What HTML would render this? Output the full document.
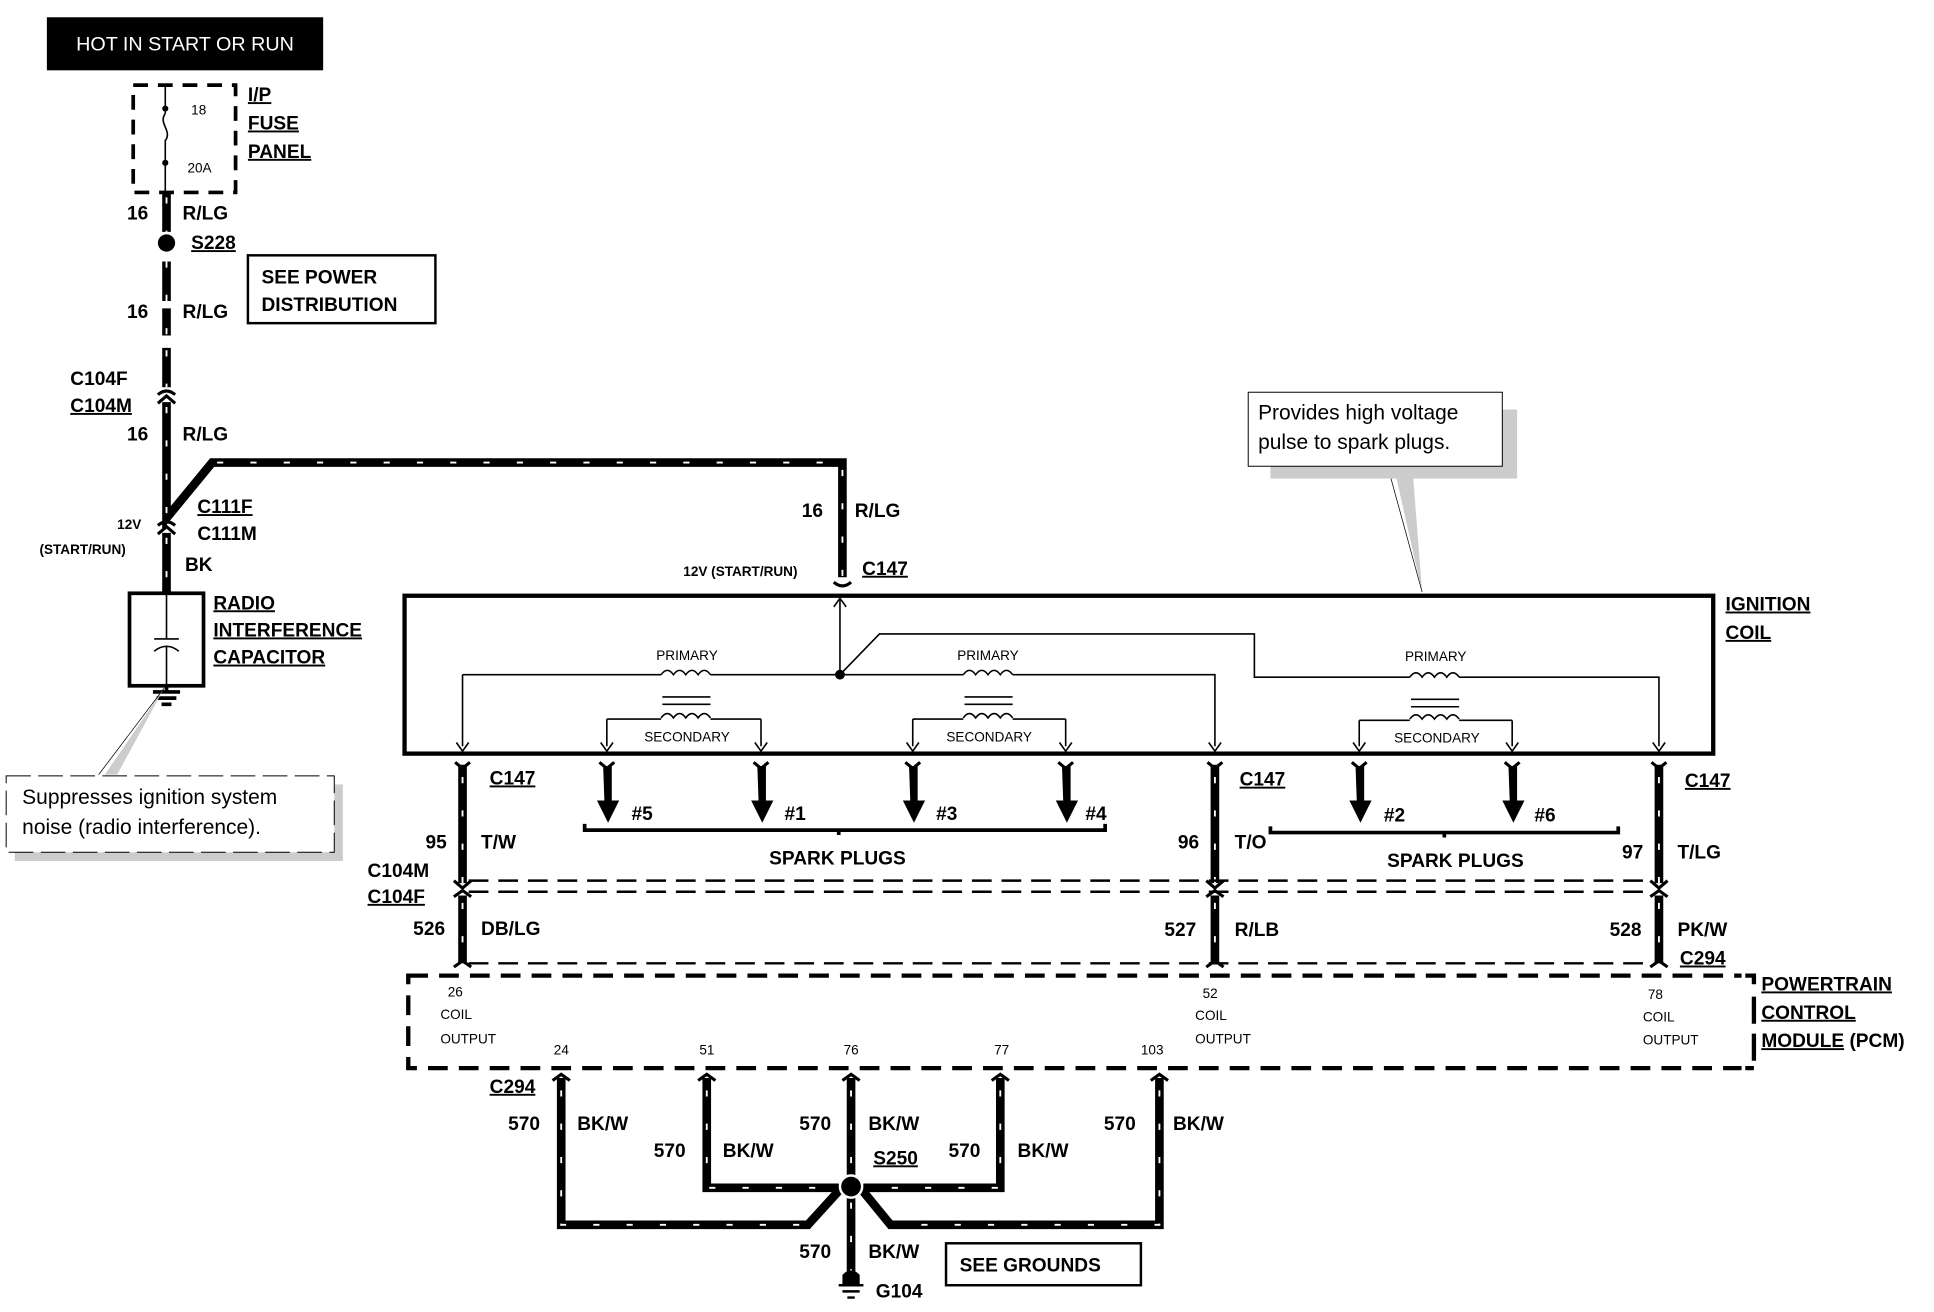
<!DOCTYPE html>
<html><head><meta charset="utf-8"><style>
html,body{margin:0;padding:0;background:#fff}
svg{display:block}
text{font-family:"Liberation Sans",Arial,sans-serif;fill:#000}
.b{font-weight:bold;font-size:15.5px}
.u{text-decoration:underline}
.s{font-size:11px}
.sb{font-size:11px;font-weight:bold}
.w{fill:none;stroke:#000;stroke-width:7}
.ws{fill:none;stroke:#fff;stroke-width:1.5;stroke-dasharray:5 22}
.t{fill:none;stroke:#000;stroke-width:1.3}
</style></head><body>
<svg width="1934" height="1312" viewBox="0 0 1568 1063.7" preserveAspectRatio="none" xmlns="http://www.w3.org/2000/svg">
<rect width="1568" height="1064" fill="#fff"/>
<rect x="38" y="14" width="224" height="43" fill="#000"/>
<text x="150" y="41" text-anchor="middle" style="fill:#fff;font-size:16px">HOT IN START OR RUN</text>
<rect x="108" y="69" width="83" height="87" fill="none" stroke="#000" stroke-width="3" stroke-dasharray="12 8"/>
<path class="t" d="M134 69 V92 M134 92 C128 100,140 106,134 114 V134 V156"/>
<circle cx="134" cy="88" r="2.5"/><circle cx="134" cy="132" r="2.5"/>
<text x="155" y="93" class="s">18</text><text x="152" y="140" class="s">20A</text>
<text x="201" y="82" class="b u">I/P</text><text x="201" y="105" class="b u">FUSE</text><text x="201" y="128" class="b u">PANEL</text>
<path class="w" d="M135 156 V188 M135 212 V244 M135 250 V272 M135 282 V314 M135 326 V420 L172 375 H683 V468 M135 432 V482"/>
<path class="ws" d="M135 160 V188 M135 212 V272 M135 284 V314 M135 330 V420 M176 375 H683 V468 M135 436 V480"/>
<circle cx="135" cy="197" r="7"/>
<path d="M128 320 q7 -6 14 0 M128 327 l7 -6 7 6 M128 426 q7 -6 14 0 M128 433 l7 -6 7 6 M676 472 q7 6 14 0" fill="none" stroke="#000" stroke-width="2.5"/>
<text x="103" y="178" class="b">16</text><text x="148" y="178" class="b">R/LG</text>
<text x="155" y="202" class="b u">S228</text>
<rect x="201" y="207" width="152" height="55" fill="none" stroke="#000" stroke-width="2"/>
<text x="212" y="230" class="b">SEE POWER</text><text x="212" y="252" class="b">DISTRIBUTION</text>
<text x="103" y="258" class="b">16</text><text x="148" y="258" class="b">R/LG</text>
<text x="57" y="312" class="b">C104F</text><text x="57" y="334" class="b u">C104M</text>
<text x="103" y="357" class="b">16</text><text x="148" y="357" class="b">R/LG</text>
<text x="160" y="416" class="b u">C111F</text><text x="160" y="438" class="b">C111M</text>
<text x="95" y="429" class="sb">12V</text><text x="32" y="449" class="sb">(START/RUN)</text>
<text x="150" y="463" class="b">BK</text>
<text x="650" y="419" class="b">16</text><text x="693" y="419" class="b">R/LG</text>
<text x="554" y="467" class="sb">12V (START/RUN)</text><text x="699" y="466" class="b u">C147</text>
<rect x="105" y="481" width="60" height="75" fill="none" stroke="#000" stroke-width="3"/>
<path class="t" d="M135 482 V518 M125 518 H145 M125 528 q10 -8 20 0 M135 524 V560" stroke-width="2"/>
<path d="M135 556 V561 M124 561 H146 M127 566 H143 M131 571 H139" stroke="#000" stroke-width="3"/>
<text x="173" y="494" class="b u">RADIO</text><text x="173" y="516" class="b u">INTERFERENCE</text><text x="173" y="538" class="b u">CAPACITOR</text>
<path d="M85 628 L133 558 L95 628 Z" fill="#ccc"/>
<path d="M80 628 L133 558" stroke="#000" stroke-width="0.6"/>
<rect x="12" y="636" width="266" height="62" fill="#ccc"/>
<rect x="5" y="629" width="266" height="62" fill="#fff" stroke="#000" stroke-width="0.8" stroke-dasharray="20 6"/>
<text x="18" y="652" style="font-size:17px">Suppresses ignition system</text>
<text x="18" y="676" style="font-size:17px">noise (radio interference).</text>
<path d="M1130 378 L1153 480 L1145 378 Z" fill="#ccc"/>
<path d="M1125 378 L1153 480" stroke="#000" stroke-width="0.6"/>
<rect x="1030" y="332" width="200" height="56" fill="#ccc"/>
<rect x="1012" y="318" width="206" height="60" fill="#fff" stroke="#000" stroke-width="0.8"/>
<text x="1020" y="340" style="font-size:17px">Provides high voltage</text>
<text x="1020" y="364" style="font-size:17px">pulse to spark plugs.</text>
<rect x="328" y="483" width="1061" height="128" fill="none" stroke="#000" stroke-width="3.5"/>
<text x="1399" y="495" class="b u">IGNITION</text><text x="1399" y="518" class="b u">COIL</text>
<path class="t" d="M681 485 V547 M375 547 H536 M576 547 H781 M821 547 H985 V605 M375 547 V605 M681 547 L713 514 H1017 V549 H1143 M1183 549 H1345 V605"/>
<path class="t" d="M676 492 l5 -7 5 7"/>
<circle cx="681" cy="547" r="4"/>
<g class="t" stroke-width="1.6">
<path d="M536 547 q5 -7 10 0 q5 -7 10 0 q5 -7 10 0 q5 -7 10 0 M537 565 H576 M537 571 H576 M536 582 q5 -7 10 0 q5 -7 10 0 q5 -7 10 0 q5 -7 10 0 M492 583 H536 M576 583 H617 M492 583 V605 M617 583 V605"/>
<path d="M781 547 q5 -7 10 0 q5 -7 10 0 q5 -7 10 0 q5 -7 10 0 M782 565 H821 M782 571 H821 M781 582 q5 -7 10 0 q5 -7 10 0 q5 -7 10 0 q5 -7 10 0 M740 583 H781 M821 583 H864 M740 583 V605 M864 583 V605"/>
<path d="M1143 549 q5 -7 10 0 q5 -7 10 0 q5 -7 10 0 q5 -7 10 0 M1144 567 H1183 M1144 573 H1183 M1143 583 q5 -7 10 0 q5 -7 10 0 q5 -7 10 0 q5 -7 10 0 M1102 584 H1143 M1183 584 H1226 M1102 584 V605 M1226 584 V605"/>
</g>
<g class="t" stroke-width="1.5">
<path d="M370 602 l5 7 5 -7 M487 602 l5 7 5 -7 M612 602 l5 7 5 -7 M735 602 l5 7 5 -7 M859 602 l5 7 5 -7 M980 602 l5 7 5 -7 M1097 602 l5 7 5 -7 M1221 602 l5 7 5 -7 M1340 602 l5 7 5 -7"/>
</g>
<text x="557" y="535" text-anchor="middle" class="s">PRIMARY</text>
<text x="801" y="535" text-anchor="middle" class="s">PRIMARY</text>
<text x="1164" y="536" text-anchor="middle" class="s">PRIMARY</text>
<text x="557" y="601" text-anchor="middle" class="s">SECONDARY</text>
<text x="802" y="601" text-anchor="middle" class="s">SECONDARY</text>
<text x="1165" y="602" text-anchor="middle" class="s">SECONDARY</text>
<path d="M489 621 h7 v28 h6 l-9 18 l-9 -18 h6z M614 621 h7 v28 h6 l-9 18 l-9 -18 h6z M737 621 h7 v28 h6 l-9 18 l-9 -18 h6z M861 621 h7 v28 h6 l-9 18 l-9 -18 h6z M1099 621 h7 v28 h6 l-9 18 l-9 -18 h6z M1223 621 h7 v28 h6 l-9 18 l-9 -18 h6z"/>
<path d="M486 618 l6 5 6 -5 M611 618 l6 5 6 -5 M734 618 l6 5 6 -5 M858 618 l6 5 6 -5 M1096 618 l6 5 6 -5 M1220 618 l6 5 6 -5 M369 618 l6 5 6 -5 M979 618 l6 5 6 -5 M1339 618 l6 5 6 -5" fill="none" stroke="#000" stroke-width="2.5"/>
<text x="512" y="665" class="b">#5</text><text x="636" y="665" class="b">#1</text><text x="759" y="665" class="b">#3</text><text x="880" y="665" class="b">#4</text><text x="1122" y="666" class="b">#2</text><text x="1244" y="666" class="b">#6</text>
<path d="M474 668 v5 H896 v-5 M680 673 v4 M1030 670 v5 H1312 v-5 M1171 675 v4" fill="none" stroke="#000" stroke-width="3"/>
<text x="679" y="701" text-anchor="middle" class="b">SPARK PLUGS</text>
<text x="1180" y="703" text-anchor="middle" class="b">SPARK PLUGS</text>
<path class="w" d="M375 620 V716 M375 726 V781 M985 620 V716 M985 726 V781 M1345 620 V716 M1345 726 V781"/>
<path class="ws" d="M375 630 V716 M375 732 V781 M985 630 V716 M985 732 V781 M1345 630 V716 M1345 732 V781"/>
<path d="M368 714 l7 6 7 -6 M368 727 l7 -5 7 5 M978 714 l7 6 7 -6 M978 727 l7 -5 7 5 M1338 714 l7 6 7 -6 M1338 727 l7 -5 7 5 M368 784 l7 -5 7 5 M978 784 l7 -5 7 5 M1338 784 l7 -5 7 5" fill="none" stroke="#000" stroke-width="2.5"/>
<path d="M380 714 H1340 M380 723 H1340 M380 781 H1340" fill="none" stroke="#000" stroke-width="2" stroke-dasharray="16 8"/>
<text x="397" y="636" class="b u">C147</text><text x="1005" y="637" class="b u">C147</text><text x="1366" y="638" class="b u">C147</text>
<text x="345" y="688" class="b">95</text><text x="390" y="688" class="b">T/W</text>
<text x="955" y="688" class="b">96</text><text x="1001" y="688" class="b">T/O</text>
<text x="1315" y="696" class="b">97</text><text x="1360" y="696" class="b">T/LG</text>
<text x="298" y="711" class="b">C104M</text><text x="298" y="732" class="b u">C104F</text>
<text x="335" y="758" class="b">526</text><text x="390" y="758" class="b">DB/LG</text>
<text x="944" y="759" class="b">527</text><text x="1001" y="759" class="b">R/LB</text>
<text x="1305" y="759" class="b">528</text><text x="1360" y="759" class="b">PK/W</text>
<text x="1362" y="782" class="b u">C294</text>
<rect x="331" y="791" width="1091" height="75" fill="none" stroke="#000" stroke-width="3.5" stroke-dasharray="16 9"/>
<rect x="1412" y="786" width="20" height="86" fill="#fff"/>
<path d="M1415 791 h7 v7 M1422 808 v22 M1422 838 v22 M1422 866 h-7" stroke="#000" stroke-width="3.5" fill="none"/>
<text x="1428" y="803" class="b u">POWERTRAIN</text><text x="1428" y="826" class="b u">CONTROL</text><text x="1428" y="849" class="b"><tspan class="u">MODULE</tspan> (PCM)</text>
<g class="s">
<text x="363" y="808">26</text><text x="357" y="826">COIL</text><text x="357" y="846">OUTPUT</text>
<text x="975" y="809">52</text><text x="969" y="827">COIL</text><text x="969" y="846">OUTPUT</text>
<text x="1336" y="810">78</text><text x="1332" y="828">COIL</text><text x="1332" y="847">OUTPUT</text>
<text x="449" y="855">24</text><text x="567" y="855">51</text><text x="684" y="855">76</text><text x="806" y="855">77</text><text x="925" y="855">103</text>
</g>
<path class="w" d="M455 874 V993 H655 L685 960 M573 874 V963 H680 M690 874 V1038 M811 874 V963 H700 M940 874 V993 H722 L695 960"/>
<path class="ws" d="M455 884 V993 H650 M573 884 V963 H675 M690 884 V950 M690 975 V1035 M811 884 V963 H705 M940 884 V993 H725"/>
<path d="M448 876 l7 -5 7 5 M566 876 l7 -5 7 5 M683 876 l7 -5 7 5 M804 876 l7 -5 7 5 M933 876 l7 -5 7 5" fill="none" stroke="#000" stroke-width="2.5"/>
<circle cx="690" cy="962" r="9" stroke="#fff" stroke-width="2"/>
<path d="M684 1040 h12 v-6 q-6 -6 -12 0z M680 1042 H700 M683 1047 H697 M687 1052 H693" fill="#000" stroke="#000" stroke-width="2"/>
<text x="397" y="886" class="b u">C294</text>
<text x="412" y="916" class="b">570</text><text x="468" y="916" class="b">BK/W</text>
<text x="530" y="938" class="b">570</text><text x="586" y="938" class="b">BK/W</text>
<text x="648" y="916" class="b">570</text><text x="704" y="916" class="b">BK/W</text>
<text x="708" y="944" class="b u">S250</text>
<text x="769" y="938" class="b">570</text><text x="825" y="938" class="b">BK/W</text>
<text x="895" y="916" class="b">570</text><text x="951" y="916" class="b">BK/W</text>
<text x="648" y="1020" class="b">570</text><text x="704" y="1020" class="b">BK/W</text>
<text x="710" y="1052" class="b">G104</text>
<rect x="767" y="1008" width="158" height="34" fill="none" stroke="#000" stroke-width="2"/>
<text x="778" y="1031" class="b">SEE GROUNDS</text>
</svg>
</body></html>
